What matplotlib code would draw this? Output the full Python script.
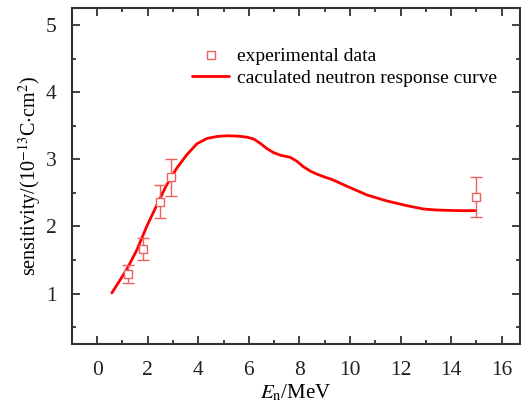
import matplotlib
matplotlib.use("Agg")
import matplotlib.pyplot as plt
from matplotlib.ticker import MultipleLocator

plt.rcParams['font.family'] = ['Liberation Serif', 'DejaVu Serif']
plt.rcParams['mathtext.fontset'] = 'stix'

# experimental data
exp_E = [1.2, 1.8, 2.5, 2.9, 15.0]
exp_S = [1.29, 1.66, 2.37, 2.73, 2.44]
exp_err = [0.13, 0.165, 0.24, 0.27, 0.295]

# calculated response curve
calc_E = [0.58, 1.17, 1.57, 1.96, 2.36, 2.75, 3.15, 3.55, 3.94, 4.34, 4.75, 5.12,
          5.55, 5.92, 6.2, 6.44, 6.71, 6.97, 7.25, 7.63, 7.9, 8.15, 8.45, 8.75, 9.0,
          9.28, 9.87, 10.66, 11.45, 12.24, 12.9, 13.4, 13.82, 14.4, 14.98]
calc_S = [1.01, 1.36, 1.65, 2.0, 2.32, 2.62, 2.87, 3.07, 3.23, 3.31, 3.34, 3.35,
          3.345, 3.33, 3.3, 3.24, 3.16, 3.10, 3.06, 3.03, 2.97, 2.89, 2.82, 2.77, 2.735,
          2.70, 2.60, 2.47, 2.38, 2.31, 2.26, 2.245, 2.24, 2.235, 2.235]

fig = plt.figure(figsize=(5.21, 4.09), dpi=100)
ax = fig.add_axes([0.138, 0.159, 0.860, 0.821])

line, = ax.plot(calc_E, calc_S, color='#ff0000', lw=2.0, solid_capstyle='round')
eb = ax.errorbar(exp_E, exp_S, yerr=exp_err, fmt='s', mfc='white', mec='#f06060',
                 ms=6, mew=1.0, ecolor='#f06060', elinewidth=1.0, capsize=4, capthick=1.0)

ax.set_xlim(-1.0, 16.72)
ax.set_ylim(0.25, 5.25)
ax.xaxis.set_major_locator(MultipleLocator(2))
ax.xaxis.set_minor_locator(MultipleLocator(1))
ax.yaxis.set_major_locator(MultipleLocator(1))
ax.yaxis.set_minor_locator(MultipleLocator(0.5))
ax.tick_params(which='both', direction='in', top=True, right=True, width=1.2,
               labelsize=15.5, colors='#222222')
ax.tick_params(which='major', length=6)
ax.tick_params(which='minor', length=3)
ax.tick_params(axis='x', which='major', pad=12)
ax.tick_params(axis='y', which='major', pad=11)
for s in ax.spines.values():
    s.set_linewidth(1.5)
    s.set_color('#333333')

ax.set_xlabel(r'$E_{\mathrm{n}}$/MeV', fontsize=15, labelpad=2)
ax.set_ylabel(r'sensitivity/(10$^{-13}$C$\cdot$cm$^2$)', fontsize=14.5, labelpad=2)

# legend
leg = ax.legend([eb[0], line], ['experimental data', 'caculated neutron response curve'],
                loc='upper left', bbox_to_anchor=(0.251, 0.905), frameon=False,
                fontsize=14, handlelength=1.9, handletextpad=0.4, labelspacing=0.2,
                borderaxespad=0)

fig.savefig('out.png', dpi=100)
